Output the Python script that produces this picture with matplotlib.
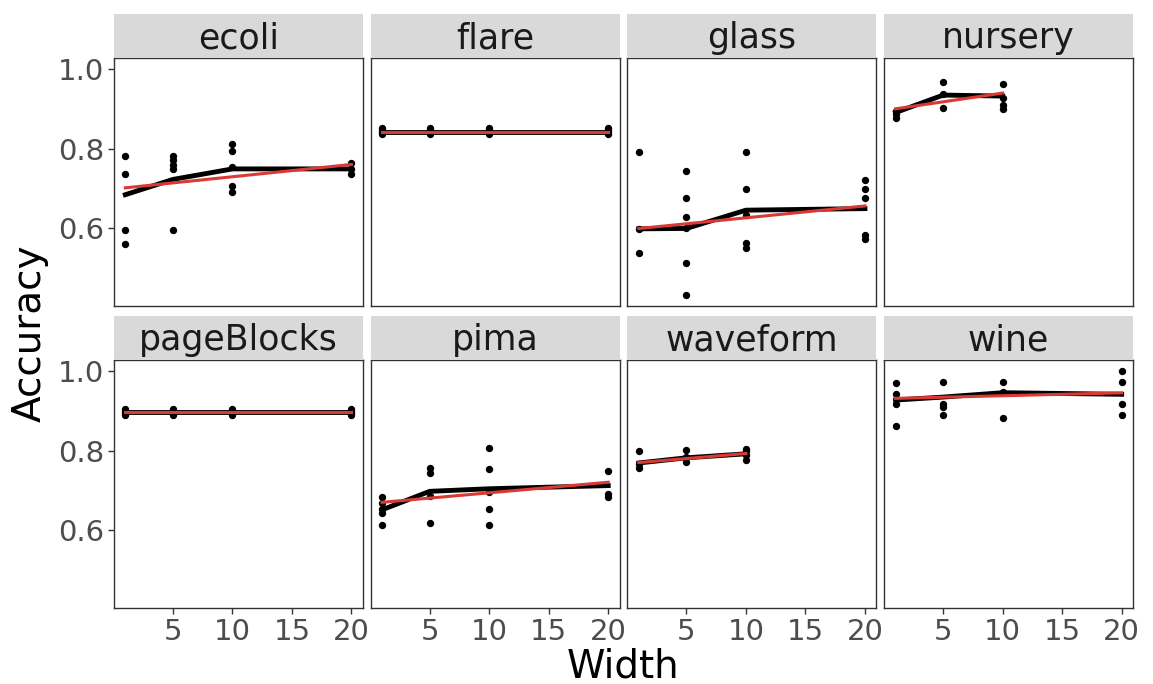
import matplotlib
matplotlib.use('Agg')
import matplotlib.pyplot as plt
import numpy as np

plt.rcParams['font.family'] = ['DejaVu Sans']

# data
names = ["ecoli", "flare", "glass", "nursery", "pageBlocks", "pima", "waveform", "wine"]
widths_all = [1, 5, 10, 20]
widths_short = [1, 5, 10]

ecoli_pts = [[0.781, 0.736, 0.596, 0.561], [0.782, 0.772, 0.759, 0.749, 0.596],
             [0.812, 0.795, 0.753, 0.705, 0.691], [0.764, 0.749, 0.736]]
ecoli_mean = [0.684, 0.7225, 0.749, 0.749]

flare_pts = [[0.836, 0.842, 0.848, 0.852]] * 4
flare_mean = [0.843, 0.843, 0.843, 0.843]

glass_pts = [[0.791, 0.598, 0.537], [0.744, 0.675, 0.628, 0.599, 0.513, 0.432],
             [0.791, 0.698, 0.633, 0.562, 0.549], [0.722, 0.698, 0.675, 0.582, 0.572]]
glass_mean = [0.598, 0.599, 0.645, 0.649]

nursery_pts = [[0.895, 0.887, 0.877], [0.968, 0.937, 0.902], [0.963, 0.928, 0.91, 0.899]]
nursery_mean = [0.891, 0.935, 0.9325]

pageblocks_pts = [[0.89, 0.895, 0.901, 0.906]] * 4
pageblocks_mean = [0.898, 0.898, 0.898, 0.898]

pima_pts = [[0.683, 0.667, 0.654, 0.642, 0.6125], [0.756, 0.743, 0.685, 0.619],
            [0.807, 0.754, 0.696, 0.652, 0.6125], [0.7475, 0.692, 0.682]]
pima_mean = [0.651, 0.6975, 0.704, 0.712]

waveform_pts = [[0.8, 0.767, 0.756], [0.802, 0.783, 0.771], [0.804, 0.798, 0.79, 0.7775]]
waveform_mean = [0.769, 0.782, 0.792]

wine_pts = [[0.971, 0.944, 0.918, 0.861], [0.9725, 0.918, 0.91, 0.889],
            [0.9725, 0.9475, 0.8825], [1.0, 0.9725, 0.918, 0.889]]
wine_mean = [0.9275, 0.935, 0.946, 0.942]

panels = [
    (widths_all, ecoli_pts, ecoli_mean),
    (widths_all, flare_pts, flare_mean),
    (widths_all, glass_pts, glass_mean),
    (widths_short, nursery_pts, nursery_mean),
    (widths_all, pageblocks_pts, pageblocks_mean),
    (widths_all, pima_pts, pima_mean),
    (widths_short, waveform_pts, waveform_mean),
    (widths_all, wine_pts, wine_mean),
]

W, H = 1153, 684
fig = plt.figure(figsize=(W / 100, H / 100), dpi=100)

left, right = 114, 1133
gap = 8
pw = (right - left - 3 * gap) / 4
row_tops = [58, 360]
ph = 248
strip_h = 44

for i, (name, (xs, pts, mean)) in enumerate(zip(names, panels)):
    r, c = divmod(i, 4)
    x0 = left + c * (pw + gap)
    top = row_tops[r]
    ax = fig.add_axes([x0 / W, (H - top - ph) / H, pw / W, ph / H])
    sx = fig.add_axes([x0 / W, (H - top) / H, pw / W, strip_h / H])
    sx.set_facecolor('#D9D9D9')
    sx.set_xticks([]); sx.set_yticks([])
    for s in sx.spines.values():
        s.set_visible(False)
    sx.text(0.5, 0.45, name, ha='center', va='center', fontsize=25, color='#1A1A1A',
            transform=sx.transAxes)

    for xv, ys in zip(xs, pts):
        ax.scatter([xv] * len(ys), ys, s=28, color='black', zorder=3, linewidths=0)
    ax.plot(xs, mean, color='black', lw=3.5, zorder=4)
    # red line = linear fit through the per-width means
    coef = np.polyfit(xs, mean, 1)
    xf = np.array([xs[0], xs[-1]])
    ax.plot(xf, np.polyval(coef, xf), color='#D93A34', lw=2.2, zorder=5)

    ax.set_xlim(0.05, 20.95)
    ax.set_ylim(0.4036, 1.0284)
    ax.set_xticks([5, 10, 15, 20])
    ax.set_yticks([0.6, 0.8, 1.0])
    ax.tick_params(length=4, width=1, color='#333333', labelcolor='#4D4D4D',
                   labelsize=21, pad=3)
    if c != 0:
        ax.tick_params(axis='y', left=False, labelleft=False)
    else:
        ax.set_yticklabels(['0.6', '0.8', '1.0'])
    if r == 0:
        ax.tick_params(axis='x', bottom=False, labelbottom=False)
    for s in ax.spines.values():
        s.set_color('#333333')
        s.set_linewidth(1.0)

fig.text((left + right) / 2 / W, 1 - 667 / H, 'Width', ha='center', va='center',
         fontsize=28, color='black')
fig.text(30 / W, 1 - 333 / H, 'Accuracy', ha='center', va='center', rotation=90,
         fontsize=28, color='black')

fig.savefig('out.png', dpi=100)
